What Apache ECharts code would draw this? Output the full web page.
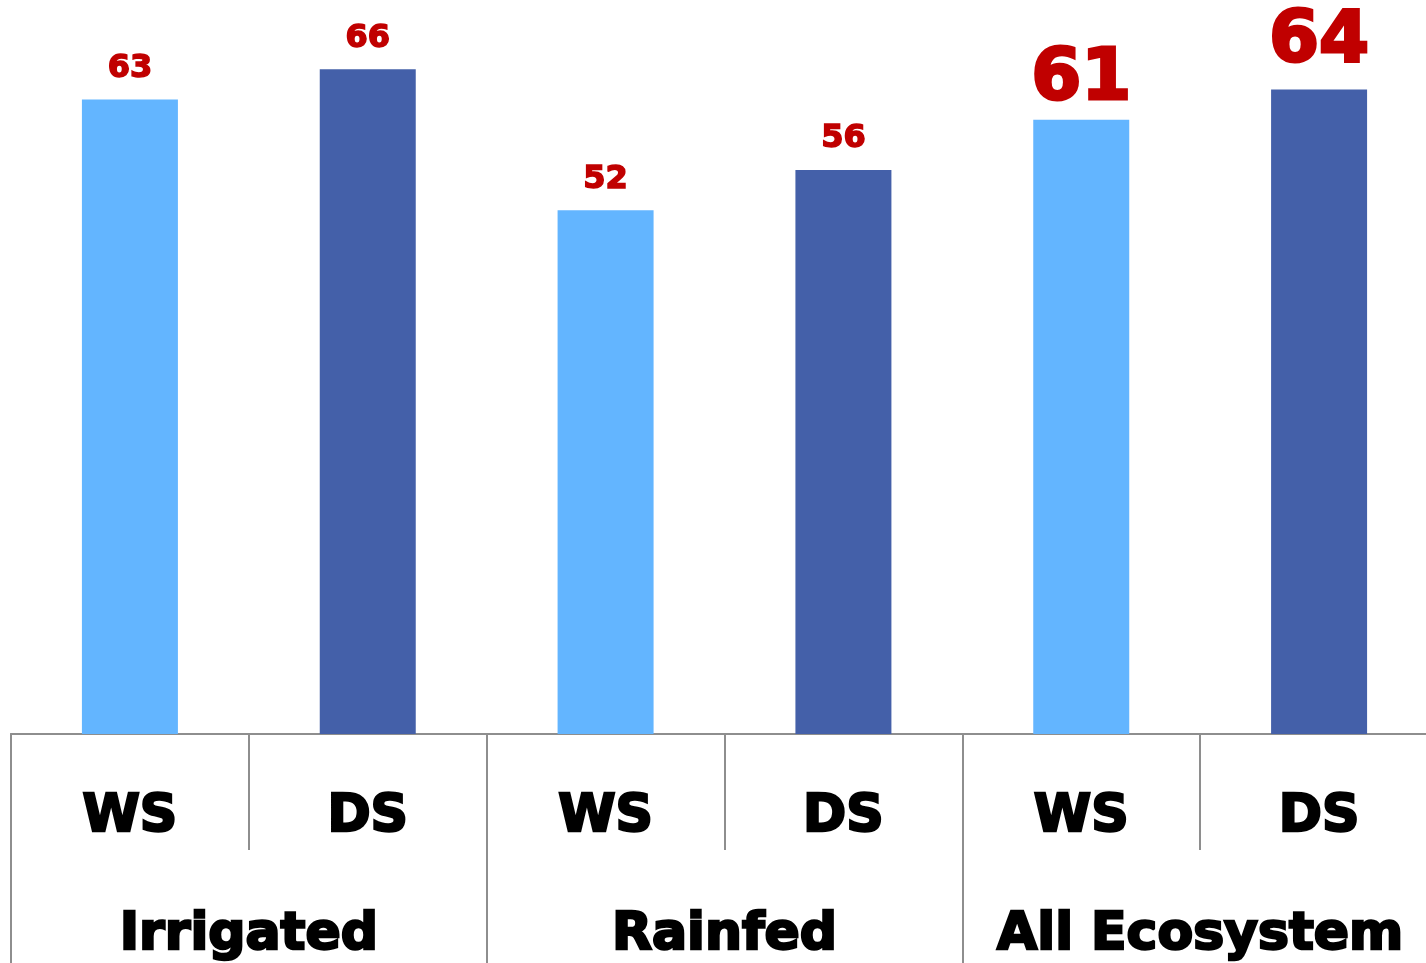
<!DOCTYPE html>
<html>
<head>
<meta charset="utf-8">
<script src="https://cdn.jsdelivr.net/npm/echarts@6/dist/echarts.min.js"></script>
<style>
  html, body { margin: 0; padding: 0; background: #ffffff; overflow: hidden; }
  /* the last category runs a little past the right edge of the window */
  #chart { width: 1440px; height: 963px; }
</style>
</head>
<body>
<div id="chart"></div>
<script>
// Seasons under each ecosystem, and the ecosystem groups below them
const seasons = ['WS', 'DS', 'WS', 'DS', 'WS', 'DS'];
const ecosystems = ['Irrigated', 'Rainfed', 'All Ecosystem'];
const values = [63, 66, 52, 56, 61, 64];

const WS_COLOR = '#63B5FF';
const DS_COLOR = '#4460A9';
const LABEL_RED = '#C00000';
const LINE_GREY = '#8E8E8E';
const FONT = 'DejaVu Sans';

// The overall group gets the emphasised, larger value labels
const data = values.map((v, i) => {
  const big = i >= 4;
  return {
    value: v,
    itemStyle: { color: seasons[i] === 'WS' ? WS_COLOR : DS_COLOR },
    label: big
      ? { fontSize: 72, textBorderWidth: 3, distance: i === 4 ? 3 : 11 }
      : { fontSize: 32, textBorderWidth: 1.5, distance: 15 }
  };
});

const axisText = {
  interval: 0,
  color: '#000',
  fontSize: 52,
  fontWeight: 'bold',
  fontFamily: FONT,
  textBorderColor: '#000',
  textBorderWidth: 2.5
};

const chart = echarts.init(document.getElementById('chart'), null, { renderer: 'canvas' });
chart.setOption({
  animation: false,
  grid: { left: 11, top: 29, width: 1427, bottom: 229, containLabel: false },
  xAxis: [
    {
      type: 'category',
      data: seasons,
      position: 'bottom',
      axisLine: { show: true, lineStyle: { color: LINE_GREY, width: 2 } },
      axisTick: { show: true, interval: 0, length: 116, lineStyle: { color: LINE_GREY, width: 2 } },
      axisLabel: Object.assign({ margin: 57 }, axisText)
    },
    {
      type: 'category',
      data: ecosystems,
      position: 'bottom',
      axisLine: { show: true, lineStyle: { color: LINE_GREY, width: 2 } },
      axisTick: { show: true, interval: 0, length: 229, lineStyle: { color: LINE_GREY, width: 2 } },
      axisLabel: Object.assign({ margin: 175 }, axisText)
    }
  ],
  yAxis: { type: 'value', min: 0, max: 70, show: false, splitLine: { show: false } },
  series: [{
    type: 'bar',
    xAxisIndex: 0,
    data: data,
    barWidth: 96,
    label: {
      show: true,
      position: 'top',
      color: LABEL_RED,
      fontWeight: 'bold',
      fontFamily: FONT,
      textBorderColor: LABEL_RED
    }
  }]
});
</script>
</body>
</html>
